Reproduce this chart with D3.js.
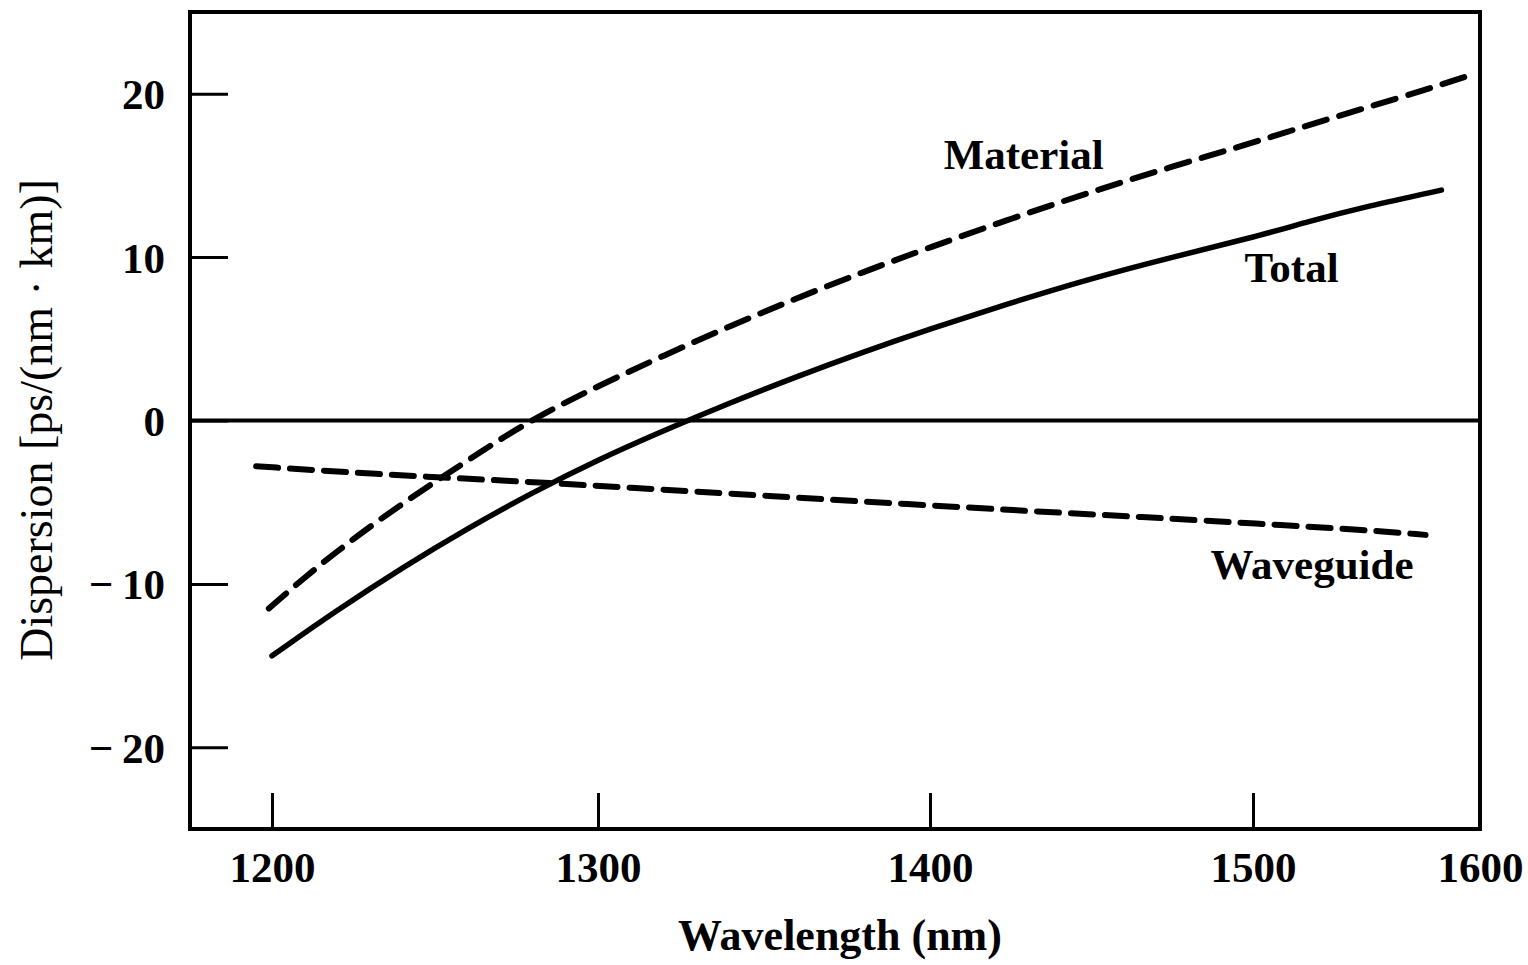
<!DOCTYPE html>
<html>
<head>
<meta charset="utf-8">
<script src="https://cdn.jsdelivr.net/npm/d3@7"></script>
<style>
  html, body { margin: 0; padding: 0; background: #fff; }
  svg { display: block; }
  text { font-family: "Liberation Serif", "DejaVu Serif", serif; fill: #000; }
</style>
</head>
<body>
<svg id="chart" width="1528" height="965"></svg>
<script>
// ---- Data ----
const xTickValues = [1200, 1300, 1400, 1500, 1600];
const yTickValues = [-20, -10, 0, 10, 20];

const materialWavelength = [1199, 1210, 1220, 1230, 1240, 1250, 1260, 1270, 1280, 1290, 1300, 1320, 1340, 1360, 1380, 1400, 1425, 1450, 1475, 1500, 1525, 1550, 1575, 1595];
const materialDispersion = [-11.5, -9.6, -8.0, -6.5, -5.1, -3.75, -2.45, -1.15, 0.05, 1.1, 2.1, 4.0, 5.8, 7.5, 9.1, 10.6, 12.35, 14.0, 15.55, 17.0, 18.1, 19.15, 20.2, 21.1];

const totalWavelength = [1200, 1220, 1240, 1260, 1280, 1300, 1320, 1340, 1360, 1380, 1400, 1425, 1450, 1475, 1500, 1525, 1550, 1583];
const totalDispersion = [-14.4, -11.6, -9.0, -6.6, -4.4, -2.4, -0.6, 1.1, 2.7, 4.2, 5.6, 7.2, 8.7, 10.0, 11.2, 12.2, 13.1, 14.1];

const waveguideWavelength = [1195, 1233, 1274, 1309, 1350, 1400, 1450, 1470, 1500, 1550, 1576];
const waveguideDispersion = [-2.8, -3.3, -3.7, -4.1, -4.6, -5.2, -5.75, -5.95, -6.3, -6.7, -7.0];

const curveLabels = ["Material", "Total", "Waveguide"];
const xTitle = "Wavelength (nm)";
const yTitle = "Dispersion [ps/(nm \u00B7 km)]";

// ---- Layout ----
const svg = d3.select("#chart");
const frame = { left: 190, right: 1480, top: 12, bottom: 829 };

// The printed figure's wavelength axis is not perfectly uniform; a piecewise scale follows its ticks.
const x = d3.scaleLinear()
  .domain([1174, 1200, 1300, 1400, 1500, 1600])
  .range([frame.left, 272, 598, 930, 1253, frame.right]);
const y = d3.scaleLinear()
  .domain([-25, 25])
  .range([frame.bottom, frame.top]);

// Frame
svg.append("rect")
  .attr("x", frame.left).attr("y", frame.top)
  .attr("width", frame.right - frame.left)
  .attr("height", frame.bottom - frame.top)
  .attr("fill", "none").attr("stroke", "#000").attr("stroke-width", 4);

// Y axis (ticks pointing inward)
const fmtY = d => d < 0 ? "\u2212\u2009" + Math.abs(d) : String(d);
const yAxis = svg.append("g")
  .attr("transform", `translate(${frame.left},0)`)
  .call(d3.axisLeft(y).tickValues(yTickValues).tickFormat(fmtY).tickSizeInner(-38).tickSizeOuter(0).tickPadding(25));
yAxis.select(".domain").remove();
yAxis.selectAll(".tick line").attr("stroke", "#000").attr("stroke-width", 3);
yAxis.selectAll(".tick text")
  .attr("font-size", 43).attr("font-weight", "bold")
  .attr("font-family", "Liberation Serif, serif")
  .attr("dy", "0.35em");

// X axis (ticks pointing inward / upward)
const xAxis = svg.append("g")
  .attr("transform", `translate(0,${frame.bottom})`)
  .call(d3.axisBottom(x).tickValues(xTickValues).tickFormat(d3.format("d")).tickSizeInner(-36).tickSizeOuter(0).tickPadding(30));
xAxis.select(".domain").remove();
xAxis.selectAll(".tick line")
  .attr("stroke", "#000").attr("stroke-width", 3)
  .attr("y2", d => d === 1600 ? 0 : -36);
xAxis.selectAll(".tick text")
  .attr("font-size", 43).attr("font-weight", "bold")
  .attr("font-family", "Liberation Serif, serif")
  .attr("dy", "0.32em")
  .attr("y", 39);

// Zero line
svg.append("line")
  .attr("x1", frame.left).attr("x2", frame.right)
  .attr("y1", y(0)).attr("y2", y(0))
  .attr("stroke", "#000").attr("stroke-width", 4);

// Curves
const line = d3.line()
  .x(d => x(d[0]))
  .y(d => y(d[1]))
  .curve(d3.curveBasis);

const material = d3.zip(materialWavelength, materialDispersion);
const total = d3.zip(totalWavelength, totalDispersion);
const waveguide = d3.zip(waveguideWavelength, waveguideDispersion);

svg.append("path").datum(material)
  .attr("d", line).attr("fill", "none").attr("stroke", "#000")
  .attr("stroke-width", 6).attr("stroke-linecap", "round")
  .attr("stroke-dasharray", "23 13");

svg.append("path").datum(waveguide)
  .attr("d", line).attr("fill", "none").attr("stroke", "#000")
  .attr("stroke-width", 6).attr("stroke-linecap", "round")
  .attr("stroke-dasharray", "22 12");

svg.append("path").datum(total)
  .attr("d", line).attr("fill", "none").attr("stroke", "#000")
  .attr("stroke-width", 5.5).attr("stroke-linecap", "round");

// Curve labels (anchored to data positions)
const labelSpecs = [
  { text: curveLabels[0], wl: 1429, val: 15.4 },
  { text: curveLabels[1], wl: 1517, val: 8.5 },
  { text: curveLabels[2], wl: 1526, val: -9.7 }
];
svg.selectAll("text.curve-label").data(labelSpecs).enter().append("text")
  .attr("class", "curve-label")
  .attr("x", d => x(d.wl))
  .attr("y", d => y(d.val))
  .attr("text-anchor", "middle")
  .attr("font-size", 43).attr("font-weight", "bold")
  .text(d => d.text);

// Axis titles
svg.append("text")
  .attr("x", 840).attr("y", 950)
  .attr("text-anchor", "middle")
  .attr("font-size", 44).attr("font-weight", "bold")
  .text(xTitle);

svg.append("text")
  .attr("transform", "translate(52,420) rotate(-90)")
  .attr("text-anchor", "middle")
  .attr("font-size", 46)
  .text(yTitle);
</script>
</body>
</html>
